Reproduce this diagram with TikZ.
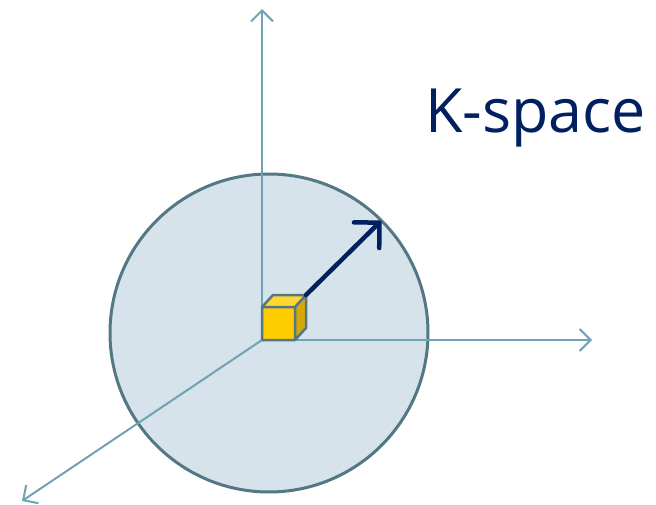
\documentclass[tikz,border=0pt]{standalone}
\usepackage{fontspec}
\setmainfont{Open Sans}
\usetikzlibrary{arrows.meta}
\definecolor{axisc}{HTML}{6FA3B3}
\definecolor{ringc}{HTML}{547784}
\definecolor{fillc}{HTML}{D6E3EA}
\definecolor{navy}{HTML}{002060}
\definecolor{cubefront}{HTML}{FFCC00}
\definecolor{cubetop}{HTML}{FFD633}
\definecolor{cubeside}{HTML}{D4A800}
\tikzset{
  axis/.style={draw=axisc, line width=2pt, -{Straight Barb[length=11pt,width=22pt,line width=2pt]}},
  face/.style={draw=ringc, line width=2.5pt, line join=round},
  ball/.style={circle, draw=ringc, fill=fillc, line width=3pt, minimum size=318pt, inner sep=0pt},
  title/.style={font=\fontsize{61}{68}\selectfont, text=navy, anchor=base west, inner sep=0pt}
}
\begin{document}
\begin{tikzpicture}[x=1pt,y=-1pt]
\useasboundingbox (0,0) rectangle (656,505);
\node[ball] (sphere) at (269,333) {};
\coordinate (o) at (262,340);
\coordinate (up) at (262,9);
\coordinate (right) at (592,340);
\coordinate (diag) at (22,501);
\draw[axis] (o) -- (up);
\draw[axis] (o) -- (right);
\draw[axis] (o) -- (diag);
% cube
\coordinate (c1) at (262,307);
\coordinate (c2) at (295,307);
\coordinate (c3) at (295,340);
\coordinate (c4) at (262,340);
\coordinate (c5) at (273,295);
\coordinate (c6) at (306,295);
\coordinate (c7) at (306,328);
\fill[cubetop] (c1) -- (c5) -- (c6) -- (c2) -- cycle;
\fill[cubeside] (c2) -- (c6) -- (c7) -- (c3) -- cycle;
\fill[cubefront] (c1) -- (c2) -- (c3) -- (c4) -- cycle;
\draw[face] (c1) -- (c5) -- (c6) -- (c7) -- (c3) -- (c4) -- cycle (c1) -- (c2) -- (c3) (c2) -- (c6);
\coordinate (tip) at (381,221);
\draw[navy, line width=4.5pt, line cap=round, -{Straight Barb[length=18pt,width=36pt,line width=4.5pt,round]}] (c6) -- (tip);
\node[title] (label) at (425,133) {K-space};
\end{tikzpicture}
\end{document}
